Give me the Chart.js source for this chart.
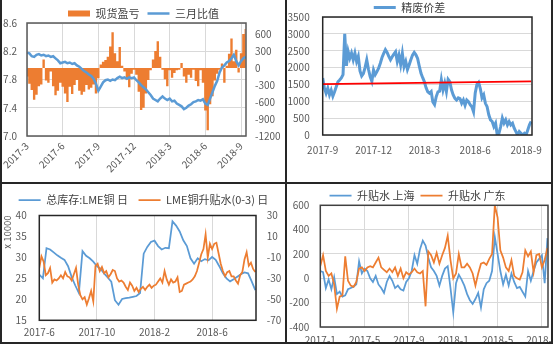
<!DOCTYPE html>
<html>
<head>
<meta charset="utf-8">
<script src="https://cdn.jsdelivr.net/npm/chart.js@4/dist/chart.umd.min.js"></script>
<style>
  html, body { margin: 0; padding: 0; background: #fff; }
  #board { position: relative; width: 556px; height: 346px; overflow: hidden; background: #fff; }
  .panel { position: absolute; }
  .rule { position: absolute; background: #262626; }
</style>
</head>
<body>
<div id="board">
  <div class="panel" style="left:2px;top:0;width:283px;height:182px"><canvas id="spotChart"></canvas></div>
  <div class="panel" style="left:287px;top:0;width:264px;height:182px"><canvas id="scrapChart"></canvas></div>
  <div class="panel" style="left:2px;top:184px;width:283px;height:158px"><canvas id="lmeChart"></canvas></div>
  <div class="panel" style="left:287px;top:184px;width:264px;height:158px"><canvas id="premiumChart"></canvas></div>
  <div class="rule" style="left:0;top:0;width:2px;height:344px"></div>
  <div class="rule" style="left:285px;top:0;width:2px;height:344px"></div>
  <div class="rule" style="left:551px;top:0;width:2px;height:344px"></div>
  <div class="rule" style="left:0;top:182px;width:553px;height:2px"></div>
  <div class="rule" style="left:0;top:342px;width:553px;height:2px"></div>
</div>
<script>
// ---- top left: spot profit/loss vs. 3-month ratio ----
var spotStart = '2017-3';
var spotStep = 0.2; // months between samples
var spotPnl = [
  -150, -280, -390, -560, -470, -320, -290, 150, -220, -260,
  -60, -320, -480, -400, -260, -330, -450, -600, -330, -460,
  -300, -210, -400, -470, -420, -300, -380, -350, -290, -450,
  -180, 60, 110, 140, 200, 380, 630, 260, 120, 370,
  40, -60, -200, -340, -100, -30, -120, -420, -740, -700,
  -450, -210, -40, 150, 300, 470, 200, -30, -200, -320,
  -40, -170, -90, -40, -30, 90, -150, -260, -120, -170,
  -30, -230, -320, -40, -260, -750, -1100, -640, -500, -220,
  -100, -30, 80, -260, 40, 250, 520, 120, 320, -80,
  260, 600, 690
];
var spotRatio = [
  8.18, 8.17, 8.13, 8.12, 8.15, 8.16, 8.14, 8.15, 8.13, 8.14,
  8.12, 8.13, 8.10, 8.07, 8.03, 8.04, 8.05, 8.03, 8.04, 8.02,
  8.03, 8.00, 7.98, 7.95, 7.92, 7.90, 7.87, 7.85, 7.81, 7.74,
  7.64, 7.70, 7.76, 7.79, 7.80, 7.78, 7.80, 7.79, 7.82, 7.84,
  7.82, 7.83, 7.81, 7.83, 7.82, 7.83, 7.79, 7.76, 7.72, 7.69,
  7.66, 7.62, 7.58, 7.53, 7.51, 7.49, 7.53, 7.56, 7.53, 7.51,
  7.53, 7.49, 7.50, 7.46, 7.44, 7.42, 7.38, 7.40, 7.43, 7.45,
  7.48, 7.49, 7.51, 7.50, 7.52, 7.46, 7.44, 7.53, 7.62, 7.71,
  7.78, 7.90, 7.97, 8.00, 8.04, 8.06, 8.10, 8.15, 8.06, 8.00,
  8.06, 8.10, 8.12
];
var spotMonths = ['2017-3', '2017-6', '2017-9', '2017-12', '2018-3', '2018-6', '2018-9'];
var spotRatioTicks = [7.0, 7.4, 7.8, 8.2, 8.6];
var spotPnlTicks = [-1200, -900, -600, -300, 0, 300, 600];

// ---- top right: refined vs. scrap spread ----
var scrapStart = '2017-9';
var scrapStep = 0.1;
var scrapSpread = [
  1690, 1390, 1240, 1390, 1190, 1330, 1150, 1280, 1430, 1580,
  1630, 1690, 1790, 3000, 2050, 2480, 2280, 2430, 2230, 2430,
  2180, 2330, 1900, 1750, 1820, 2000, 2230, 1950, 1730, 1590,
  1930, 1790, 1880, 1980, 2130, 2300, 2420, 2530, 2450, 2330,
  2230, 2320, 2400, 2470, 2180, 2370, 2090, 2420, 2030, 2180,
  1940, 2080, 2230, 2370, 2450, 2380, 2270, 2040, 1830, 1700,
  1580, 1400, 1280, 1240, 1290, 980, 900, 1140, 1280, 1300,
  1640, 1340, 1540, 1290, 1650, 1580, 1340, 1190, 1090, 1040,
  1100, 1080, 940, 1040, 880, 1040, 990, 900, 840, 690,
  1250, 1500, 1560, 1380, 1100, 1190, 940, 840, 600, 450,
  400, 250, 350, 0, 50, 250, 500, 350, 450, 300,
  400, 300, 350, 200, 100, 0, 100, 50, 0, 50,
  0, 150, 300, 400
];
var scrapTrend = [1510, 1590]; // linear trend, first and last sample
var scrapMonths = ['2017-9', '2017-12', '2018-3', '2018-6', '2018-9'];
var scrapTicks = [0, 500, 1000, 1500, 2000, 2500, 3000, 3500];

// ---- bottom left: LME stocks and cash-3M spread ----
var stockStart = '2017-6';
var stockStep = 0.25;
var lmeStock = [ // 10,000 t
  25.9, 25.0, 32.2, 31.9, 31.2, 30.5, 29.9, 29.4, 27.9, 25.3,
  23.3, 21.5, 31.5, 30.4, 29.8, 29.0, 27.9, 27.3, 26.2, 25.2,
  24.2, 19.8, 18.7, 20.1, 20.3, 20.4, 20.6, 20.8, 21.5, 30.9,
  32.5, 33.7, 34.0, 32.7, 31.9, 32.3, 32.2, 38.6, 37.6, 36.2,
  34.1, 32.7, 29.8, 28.5, 29.8, 29.1, 29.6, 29.3, 30.1, 29.4,
  27.9, 26.2, 25.0, 24.3, 24.8, 25.4, 26.0, 26.4, 26.2, 24.3,
  22.2
];
var spreadStart = '2017-6';
var spreadStep = 0.15;
var lmeSpread = [
  -20, -9, -14, -27, -25, -20, -34, -31, -32, -30,
  -27, -30, -24, -28, -29, -32, -26, -20, -36, -46,
  -50, -48, -55, -49, -42, -52, -18, -16, -23, -19,
  -25, -23, -29, -26, -22, -23, -30, -33, -32, -34,
  -38, -41, -34, -37, -42, -39, -43, -40, -38, -41,
  -38, -36, -39, -37, -36, -33, -30, -34, -23, -31,
  -36, -31, -34, -33, -29, -43, -42, -36, -35, -34,
  -33, -31, -28, -23, -15, -7, -2, 12, -10, 3,
  -2, 3, 4, -6, -16, -23, -28, -24, -23, -28,
  -28, -32, -35, -27, -24, -12, -5, -18, -15, -21,
  -24
];
var lmeMonths = ['2017-6', '2017-10', '2018-2', '2018-6'];
var lmeStockTicks = [15, 20, 25, 30, 35, 40];
var lmeSpreadTicks = [-70, -50, -30, -10, 10, 30];

// ---- bottom right: Shanghai / Guangdong premiums ----
var premStart = '2017-1';
var premStep = 0.25;
var premShanghai = [
  60, 50, -80, -10, -90, 10, -130, -110, -150, -140,
  -90, -80, -70, -50, 140, 40, 80, 60, 0, -30,
  20, -50, -80, -120, -30, 20, -20, -80, -60, -90,
  -100, -30, 0, 60, 190, 120, 240, 310, 270, 170,
  90, 60, 20, -60, 20, 80, 100, -80, -280, -40,
  30, -10, -60, -130, -180, -210, -170, -120, -240, -90,
  -40, -20, 60, 340, 200, 60, -50, 30, -60, 40,
  -30, -80, -70, -110, -150, 60, -20, 60, 130, 160,
  190, -40, 330
];
var premGuangdong = [
  100, 190, 60, 20, 40, -50, -250, -150, -140, 180,
  -20, -60, -70, -30, 80, 90, 60, 90, 100, 90,
  130, 170, 90, 70, 50, 80, 50, 90, 20, 80,
  0, 50, 30, 50, 80, 50, 40, 60, -230, 220,
  190, 130, 210, 120, 190, 250, 350, 150, 0, 40,
  200, 90, 90, 120, 90, 40, -60, 40, 120, 130,
  110, 160, 200, 600, 500, 230, 170, 90, 60, 150,
  20, 0, -10, 50, 230, 180, 220, 50, 190, 200,
  90, 150, 250
];
var premMonths = ['2017-1', '2017-5', '2017-9', '2018-1', '2018-5', '2018-9'];
var premTicks = [-400, -200, 0, 200, 400, 600];

// ---- shared helpers ----
var FONT = "'Noto Sans CJK SC', 'Noto Sans', sans-serif";
var INK = '#595959';
var GRID = '#d9d9d9';
var BLUE = '#5b9bd5';
var ORANGE = '#ed7d31';

Chart.defaults.font.family = FONT;
Chart.defaults.font.size = 10;
Chart.defaults.color = INK;

// months counted from 2017-1
function monthIndex(label) {
  var parts = label.split('-');
  return (Number(parts[0]) - 2017) * 12 + Number(parts[1]) - 1;
}
function monthLabel(v) {
  var y = 2017 + Math.floor(v / 12);
  return y + '-' + (Math.round(v) - (y - 2017) * 12 + 1);
}
function plain(v) { return String(v); } // no thousands separator
function series(start, step, values) {
  var x0 = monthIndex(start);
  return values.map(function(v, i) { return { x: x0 + i * step, y: v }; });
}
function fixedTicks(values) {
  return function(scale) {
    scale.ticks = values.map(function(v) { return { value: v }; });
  };
}
function fixSize(prop, size) {
  return function(scale) {
    scale[prop] = size;
    scale.paddingLeft = scale.paddingRight = scale.paddingTop = scale.paddingBottom = 0;
  };
}
function legendOpts(padding, height, filter) {
  return {
    position: 'top',
    maxHeight: height,
    labels: {
      usePointStyle: true,
      pointStyleWidth: 22,
      boxHeight: 6,
      padding: padding,
      color: '#404040',
      font: { family: FONT, size: 11 },
      sort: function(a, b) { return a.datasetIndex - b.datasetIndex; },
      filter: filter
    }
  };
}
function monthAxis(months, max, extra) {
  var axis = {
    type: 'linear',
    offset: false,
    min: monthIndex(months[0]),
    max: max,
    border: { display: false },
    grid: { color: GRID, drawTicks: false, offset: false },
    ticks: { autoSkip: false, maxRotation: 0, padding: 6, callback: monthLabel },
    afterBuildTicks: fixedTicks(months.map(monthIndex))
  };
  return Object.assign(axis, extra);
}

// outline of the plot area
Chart.register({
  id: 'plotFrame',
  afterDatasetsDraw: function(chart, args, opts) {
    var a = chart.chartArea, ctx = chart.ctx;
    ctx.save();
    ctx.strokeStyle = opts.color;
    ctx.lineWidth = opts.width;
    ctx.strokeRect(a.left, a.top, a.right - a.left, a.bottom - a.top);
    ctx.restore();
  }
});

var base = { responsive: true, maintainAspectRatio: false, animation: false };

// top left: daily P/L as solid columns (stepped area down to zero) under the ratio line
new Chart(document.getElementById('spotChart'), {
  type: 'line',
  data: {
    datasets: [{
      label: '现货盈亏',
      data: series(spotStart, spotStep, spotPnl),
      yAxisID: 'yPnl',
      backgroundColor: ORANGE,
      borderColor: ORANGE,
      borderWidth: 0,
      fill: 'origin',
      stepped: 'middle',
      pointRadius: 0,
      pointStyle: 'rect',
      order: 2
    }, {
      label: '三月比值',
      data: series(spotStart, spotStep, spotRatio),
      yAxisID: 'yRatio',
      borderColor: BLUE,
      borderWidth: 2.5,
      pointRadius: 0,
      pointStyle: 'line',
      tension: 0,
      order: 1
    }]
  },
  options: Object.assign({}, base, {
    layout: { padding: 0 },
    plugins: {
      legend: legendOpts(8, 23),
      tooltip: { enabled: false },
      plotFrame: { color: '#595959', width: 1.5 }
    },
    scales: {
      x: monthAxis(spotMonths, 20.42, {
        ticks: { autoSkip: false, minRotation: 45, maxRotation: 45, padding: 4, callback: monthLabel },
        afterFit: fixSize('height', 46)
      }),
      yRatio: {
        position: 'left', min: 7, max: 8.6,
        border: { display: false },
        grid: { color: GRID, drawTicks: false },
        ticks: { padding: 10, callback: function(v) { return v.toFixed(1); } },
        afterBuildTicks: fixedTicks(spotRatioTicks),
        afterFit: fixSize('width', 25)
      },
      yPnl: {
        position: 'right', min: -1200, max: 794,
        border: { display: false },
        grid: { display: false, drawTicks: false },
        ticks: { padding: 9, callback: plain },
        afterBuildTicks: fixedTicks(spotPnlTicks),
        afterFit: fixSize('width', 39)
      }
    }
  })
});

// top right
var scrapData = series(scrapStart, scrapStep, scrapSpread);
new Chart(document.getElementById('scrapChart'), {
  type: 'line',
  data: {
    datasets: [{
      label: '精废价差',
      data: scrapData,
      borderColor: BLUE,
      borderWidth: 3,
      pointRadius: 0,
      pointStyle: 'line',
      tension: 0,
      order: 2
    }, {
      label: '趋势',
      data: [
        { x: scrapData[0].x, y: scrapTrend[0] },
        { x: scrapData[scrapData.length - 1].x, y: scrapTrend[1] }
      ],
      borderColor: '#ff0000',
      borderWidth: 1.75,
      pointRadius: 0,
      order: 1
    }]
  },
  options: Object.assign({}, base, {
    layout: { padding: { right: 19 } },
    plugins: {
      legend: legendOpts(2, 17, function(item) { return item.datasetIndex === 0; }),
      tooltip: { enabled: false },
      plotFrame: { color: '#262626', width: 1.5 }
    },
    scales: {
      x: monthAxis(scrapMonths, 20.35, {
        grid: { display: false, drawTicks: false },
        ticks: { autoSkip: false, maxRotation: 0, padding: 9, callback: monthLabel },
        afterFit: fixSize('height', 47)
      }),
      y: {
        min: 0, max: 3500,
        border: { display: false },
        grid: { color: GRID, drawTicks: false },
        ticks: { padding: 13, callback: plain },
        afterBuildTicks: fixedTicks(scrapTicks),
        afterFit: fixSize('width', 35.7)
      }
    }
  })
});

// bottom left
new Chart(document.getElementById('lmeChart'), {
  type: 'line',
  data: {
    datasets: [{
      label: '总库存:LME铜 日',
      data: series(stockStart, stockStep, lmeStock),
      yAxisID: 'yStock',
      borderColor: BLUE,
      borderWidth: 1.75,
      pointRadius: 0,
      pointStyle: 'line',
      tension: 0,
      order: 2
    }, {
      label: 'LME铜升贴水(0-3) 日',
      data: series(spreadStart, spreadStep, lmeSpread),
      yAxisID: 'ySpread',
      borderColor: ORANGE,
      borderWidth: 1.75,
      pointRadius: 0,
      pointStyle: 'line',
      tension: 0,
      order: 1
    }]
  },
  options: Object.assign({}, base, {
    layout: { padding: 0 },
    plugins: {
      legend: legendOpts(10.5, 33),
      tooltip: { enabled: false },
      plotFrame: { color: '#262626', width: 1.5 }
    },
    scales: {
      x: monthAxis(lmeMonths, 20.05, {
        afterFit: fixSize('height', 21.7)
      }),
      yStock: {
        position: 'left', min: 15, max: 40,
        border: { display: false },
        grid: { display: false, drawTicks: false },
        ticks: { padding: 12.6, callback: plain },
        title: { display: true, text: 'x 10000', align: 'end', font: { size: 9.5 }, padding: 0 },
        afterBuildTicks: fixedTicks(lmeStockTicks),
        afterFit: fixSize('width', 37.3)
      },
      ySpread: {
        position: 'right', min: -70, max: 30,
        border: { display: false },
        grid: { display: false, drawTicks: false },
        ticks: { padding: 10.7, callback: plain },
        afterBuildTicks: fixedTicks(lmeSpreadTicks),
        afterFit: fixSize('width', 29)
      }
    }
  })
});

// bottom right
new Chart(document.getElementById('premiumChart'), {
  type: 'line',
  data: {
    datasets: [{
      label: '升贴水 上海',
      data: series(premStart, premStep, premShanghai),
      borderColor: BLUE,
      borderWidth: 1.75,
      pointRadius: 0,
      pointStyle: 'line',
      tension: 0,
      order: 2
    }, {
      label: '升贴水 广东',
      data: series(premStart, premStep, premGuangdong),
      borderColor: ORANGE,
      borderWidth: 1.75,
      pointRadius: 0,
      pointStyle: 'line',
      tension: 0,
      order: 1
    }]
  },
  options: Object.assign({}, base, {
    layout: { padding: { right: 3 } },
    plugins: {
      legend: legendOpts(6, 21.3),
      tooltip: { enabled: false },
      plotFrame: { color: '#404040', width: 1.5 }
    },
    scales: {
      x: monthAxis(premMonths, 20.55, {
        ticks: { autoSkip: false, maxRotation: 0, padding: 7, callback: monthLabel },
        afterFit: fixSize('height', 15)
      }),
      y: {
        min: -400, max: 600,
        border: { display: false },
        grid: { color: GRID, drawTicks: false },
        ticks: { padding: 11, callback: plain },
        afterBuildTicks: fixedTicks(premTicks),
        afterFit: fixSize('width', 33.3)
      }
    }
  })
});
</script>
</body>
</html>
